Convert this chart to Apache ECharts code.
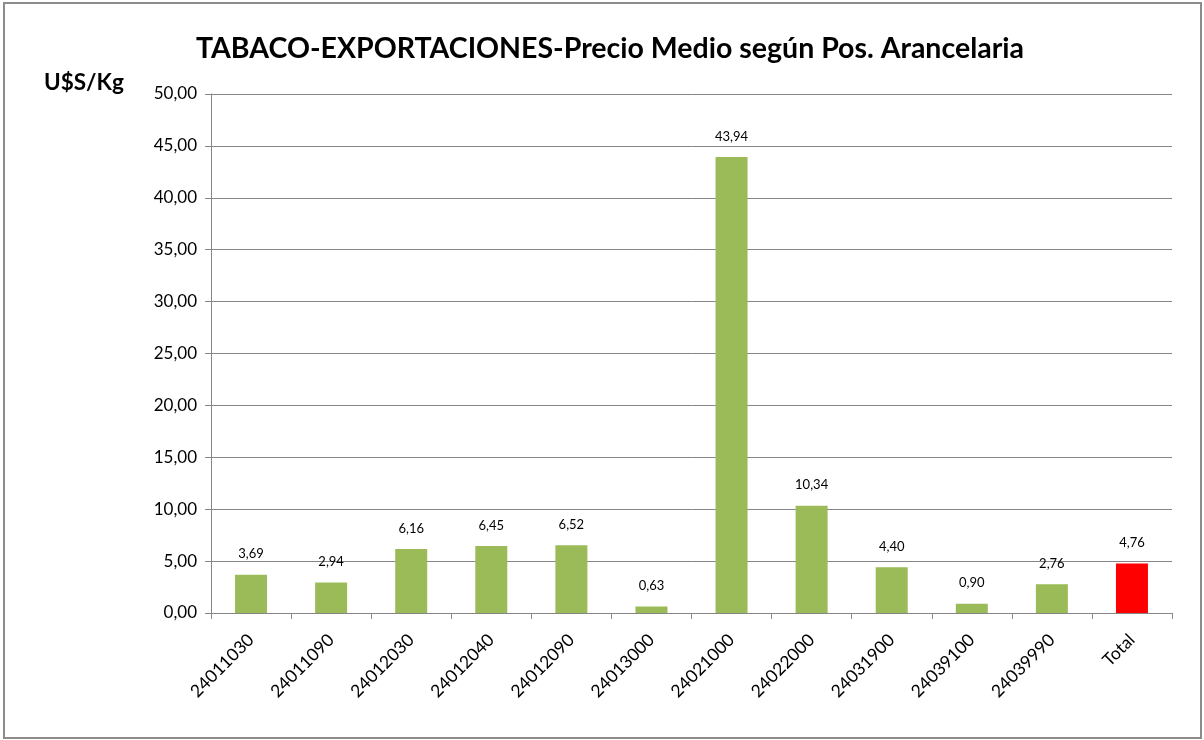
<!DOCTYPE html>
<html>
<head>
<meta charset="utf-8">
<script src="https://cdn.jsdelivr.net/npm/echarts@6/dist/echarts.min.js"></script>
<style>
  html, body { margin: 0; padding: 0; background: #fff; }
  #frame { position: absolute; left: 3px; top: 2px; width: 1195px; height: 733px; border: 2px solid #8c8c8c; }
  #myChart { position: absolute; left: 0; top: 0; width: 1204px; height: 740px; }
</style>
</head>
<body>
<div id="frame"></div>
<div id="myChart"></div>
<script>
  // datos del grafico
  var categorias = ['24011030', '24011090', '24012030', '24012040', '24012090', '24013000',
    '24021000', '24022000', '24031900', '24039100', '24039990', 'Total'];
  var precios = [3.69, 2.94, 6.16, 6.45, 6.52, 0.63, 43.94, 10.34, 4.40, 0.90, 2.76, 4.76];
  var ticksY = [0, 50, 5]; // min, max, intervalo

  function coma (v) {
    return Number(v).toFixed(2).replace('.', ',');
  }

  var serieData = precios.map(function (v, i) {
    return {
      value: v,
      itemStyle: { color: categorias[i] === 'Total' ? '#ff0000' : '#9bbb59' }
    };
  });

  var myChart = echarts.init(document.getElementById('myChart'));
  myChart.setOption({
    animation: false,
    textStyle: { fontFamily: 'Lato, "Open Sans", sans-serif' },
    title: {
      text: 'TABACO-EXPORTACIONES-Precio Medio según Pos. Arancelaria',
      left: 605,
      textAlign: 'center',
      top: 29,
      textStyle: { fontSize: 28.5, fontWeight: 'bold', color: '#000' }
    },
    graphic: [{
      type: 'text',
      left: 44,
      top: 71,
      style: { text: 'U$S/Kg', fontSize: 22.5, fontWeight: 'bold', fill: '#000', fontFamily: 'Lato, sans-serif' }
    }],
    grid: { left: 211, right: 32, top: 94, bottom: 127 },
    xAxis: {
      type: 'category',
      data: categorias,
      axisLine: { lineStyle: { color: '#868686', width: 1 } },
      axisTick: { show: true, length: 6, alignWithLabel: false, lineStyle: { color: '#868686' } },
      axisLabel: { rotate: 45, fontSize: 17.5, color: '#000', margin: 24, interval: 0 }
    },
    yAxis: {
      type: 'value',
      min: ticksY[0],
      max: ticksY[1],
      interval: ticksY[2],
      axisLine: { show: true, lineStyle: { color: '#868686', width: 1 } },
      axisTick: { show: true, length: 6, lineStyle: { color: '#868686' } },
      splitLine: { lineStyle: { color: '#868686', width: 1 } },
      axisLabel: { fontSize: 17, color: '#000', margin: 14, formatter: coma }
    },
    series: [{
      type: 'bar',
      data: serieData,
      barWidth: 32,
      label: {
        show: true,
        position: 'top',
        distance: 14,
        fontSize: 13,
        color: '#000',
        formatter: function (p) { return coma(p.value); }
      }
    }]
  });
</script>
</body>
</html>
